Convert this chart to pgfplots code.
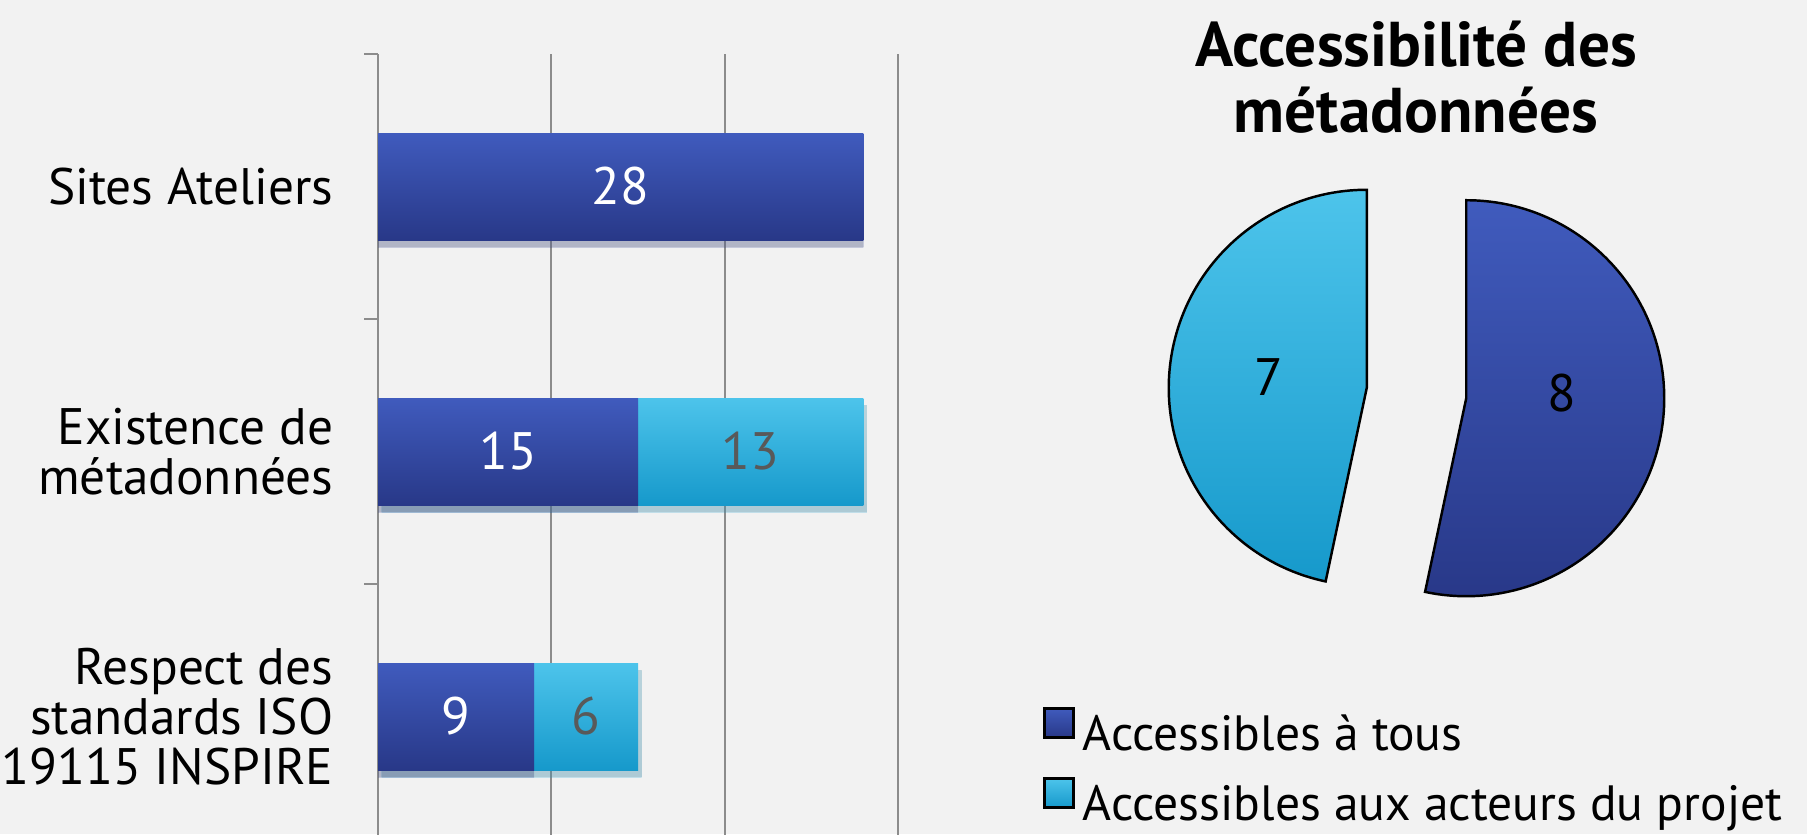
\documentclass[border=0pt]{standalone}
\usepackage{fontspec}
\setmainfont{PT Sans}
\usepackage{pgfplots}
\usepackage{pgfplotstable}
\pgfplotsset{compat=1.18}
\usetikzlibrary{calc,shadows}

\definecolor{bg}{HTML}{F2F2F2}
\definecolor{dkT}{HTML}{405BBD}
\definecolor{dkB}{HTML}{283888}
\definecolor{ltT}{HTML}{4DC4EB}
\definecolor{ltB}{HTML}{1699CB}
\definecolor{gridc}{HTML}{8C8C8C}
\definecolor{lblgray}{HTML}{595959}

\newcommand\lblfont{\fontsize{14.6}{14.3}\selectfont}
\newcommand\numfont{\fontsize{15}{15}\selectfont}

\pgfplotstableread{
idx tous acteurs
0 28 0
1 15 13
2 9 6
}\bardata

\pgfplotstableread{
idx pos lab
0 14 28
1 7.5 15
2 4.5 9
}\darklabels

\pgfplotstableread{
idx pos lab
1 21.5 13
2 12 6
}\lightlabels

% pie values
\def\vA{8}
\def\vB{7}
\pgfmathsetmacro\total{\vA+\vB}
\pgfmathsetmacro\aEnd{90-360*\vA/\total}
\pgfmathsetmacro\aMid{90-180*\vA/\total}
\pgfmathsetmacro\bEnd{\aEnd-360*\vB/\total}
\pgfmathsetmacro\bMid{\aEnd-180*\vB/\total}

\begin{document}
\begin{tikzpicture}[x=1cm,y=1cm]
\fill[bg] (0,0) rectangle (18.07,8.34);
\path[use as bounding box] (0,0) rectangle (18.07,8.34);

% ---------- bar chart ----------
\begin{axis}[
  at={(3.78cm,-0.15cm)}, anchor=south west,
  width=5.20cm, height=7.95cm, scale only axis,
  xmin=0, xmax=30, ymin=-0.5, ymax=2.5, y dir=reverse,
  xbar, bar width=1.07cm, bar shift=0pt,
  xtick={0,10,20,30}, xticklabels={},
  xmajorgrids, grid style={gridc, line width=0.6pt},
  separate axis lines,
  x axis line style={draw=none},
  y axis line style={gridc, line width=0.6pt},
  ytick={0,1,2},
  yticklabels={Sites Ateliers,{Existence de\\métadonnées},{Respect des\\standards ISO\\19115 INSPIRE}},
  minor ytick={-0.5,0.5,1.5,2.5},
  ytick pos=left, tick align=outside,
  major tick length=0pt, minor tick length=0.14cm,
  minor tick style={gridc, line width=0.6pt},
  yticklabel style={align=right, font=\lblfont, inner sep=0pt, xshift=-0.44cm},
]
% light segments: drawn as full-length bars (tous + acteurs), dark bars on top
\pgfplotsinvokeforeach{1,2}{
\addplot[draw=none, bar shift=0pt, top color=ltT, bottom color=ltB,
  restrict y to domain=#1:#1,
  drop shadow={shadow xshift=1pt, shadow yshift=-2pt, opacity=0.22}]
  table[x expr=\thisrow{tous}+\thisrow{acteurs}, y=idx] \bardata;
}
\pgfplotsinvokeforeach{0,1,2}{
\addplot[draw=none, bar shift=0pt, top color=dkT, bottom color=dkB,
  restrict y to domain=#1:#1,
  drop shadow={shadow xshift=0pt, shadow yshift=-2pt, opacity=0.22}]
  table[x=tous, y=idx] \bardata;
}
\end{axis}

% ---------- bar labels ----------
\begin{axis}[
  at={(3.78cm,-0.15cm)}, anchor=south west,
  width=5.20cm, height=7.95cm, scale only axis,
  xmin=0, xmax=30, ymin=-0.5, ymax=2.5, y dir=reverse,
  hide axis,
]
\addplot[draw=none, mark=none, nodes near coords, point meta=explicit symbolic,
  nodes near coords style={anchor=center, font=\numfont, text=white}]
  table[x=pos, y=idx, meta=lab] \darklabels;
\addplot[draw=none, mark=none, nodes near coords, point meta=explicit symbolic,
  nodes near coords style={anchor=center, font=\numfont, text=lblgray}]
  table[x=pos, y=idx, meta=lab] \lightlabels;
\end{axis}

% ---------- title ----------
\node[anchor=north, inner sep=0pt, align=center,
  font=\bfseries\fontsize{18}{18.8}\selectfont] at (14.16,8.14)
  {Accessibilité des\\métadonnées};

% ---------- pie ----------
\begin{axis}[
  at={(14.165cm,4.41cm)}, anchor=center,
  width=6cm, height=6cm, scale only axis,
  xmin=-3, xmax=3, ymin=-3, ymax=3,
  hide axis, clip=false,
  legend image code/.code={\path[#1] (0cm,0cm) rectangle (0.29cm,0.29cm);},
  legend style={draw=none, fill=none, inner sep=0pt, outer sep=0pt,
    at={(axis cs:-3.735,-3.14)}, anchor=north west,
    font=\fontsize{14.1}{14.1}\selectfont,
    nodes={inner sep=0pt, text height=11pt, text depth=3.5pt},
    row sep=4.0pt,
    /tikz/every odd column/.style={column sep=0.08cm}},
  legend cell align=left,
]
\addlegendimage{top color=dkT, bottom color=dkB, draw=black, line width=0.8pt}
\addlegendentry{Accessibles à tous}
\addlegendimage{top color=ltT, bottom color=ltB, draw=black, line width=0.8pt}
\addlegendentry{Accessibles aux acteurs du projet}

\path[top color=dkT, bottom color=dkB, draw=black, line width=0.7pt]
  ($(axis cs:0,0)+(\aMid:0.50cm)$) -- ++(90:1.98cm)
  arc[start angle=90, end angle=\aEnd, radius=1.98cm] -- cycle;
\path[top color=ltT, bottom color=ltB, draw=black, line width=0.7pt]
  ($(axis cs:0,0)+(\bMid:0.50cm)$) -- ++(\aEnd:1.98cm)
  arc[start angle=\aEnd, end angle=\bEnd, radius=1.98cm] -- cycle;
\node[font=\numfont] at ($(axis cs:0,0)+(\aMid+6:1.45cm)$) {\vA};
\node[font=\numfont] at ($(axis cs:0,0)+(\bMid:1.48cm)$) {\vB};
\end{axis}
\end{tikzpicture}
\end{document}
